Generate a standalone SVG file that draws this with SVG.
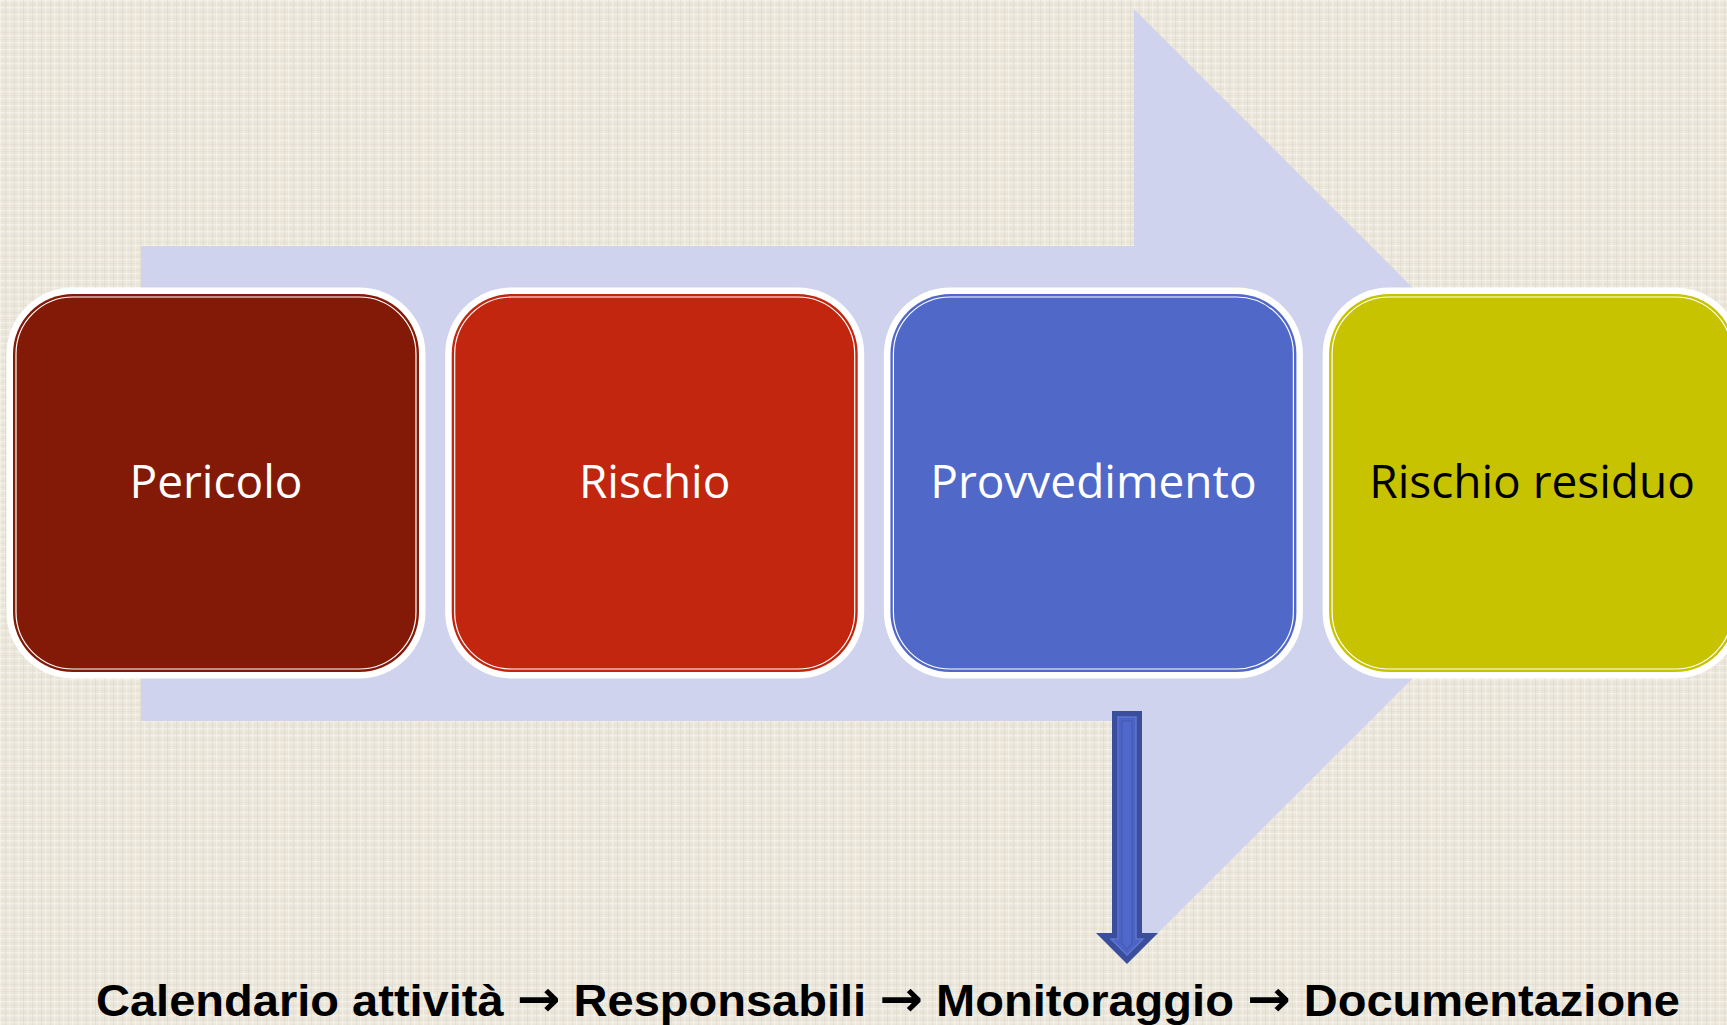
<svg xmlns="http://www.w3.org/2000/svg" width="1727" height="1025" viewBox="0 0 1727 1025">
  <defs>
    <pattern id="linen" width="9" height="7" patternUnits="userSpaceOnUse">
      <rect width="9" height="7" fill="#ebe6da"/>
      <rect x="0" y="0" width="9" height="1.2" fill="#f5f2eb" opacity="0.8"/>
      <rect x="0" y="0" width="1.2" height="7" fill="#f5f2eb" opacity="0.8"/>
      <rect x="5" y="0" width="1" height="7" fill="#ddd6c7" opacity="0.5"/>
      <rect x="0" y="4" width="9" height="0.8" fill="#ddd6c7" opacity="0.4"/>
    </pattern>
    <style>
      .outer { fill: #ffffff; }
      .inner { fill: none; stroke: #ffffff; stroke-width: 1.2; }
      .lbl { font-family: "Open Sans", "Liberation Sans", sans-serif; font-size: 46px; text-anchor: middle; }
      .arr { font-family: "DejaVu Sans", sans-serif; font-weight: bold; font-size: 50px; }
    </style>
  </defs>

  <rect width="1727" height="1025" fill="url(#linen)"/>

  <g id="bigArrow">
    <polygon points="141,246 1134,246 1134,9 1608,483 1134,957 1134,721 141,721" fill="#d0d3ed"/>
  </g>

  <g id="node-pericolo">
    <rect class="outer" x="6.5" y="287.5" width="419" height="391" rx="66.5"/>
    <rect x="13" y="294" width="406" height="378" rx="60" fill="#831a08"/>
    <rect class="inner" x="16" y="297" width="400" height="372" rx="57"/>
    <text class="lbl" x="216" y="498" fill="#ffffff">Pericolo</text>
  </g>

  <g id="node-rischio">
    <rect class="outer" x="445.2" y="287.5" width="419" height="391" rx="66.5"/>
    <rect x="451.7" y="294" width="406" height="378" rx="60" fill="#c2260f"/>
    <rect class="inner" x="454.7" y="297" width="400" height="372" rx="57"/>
    <text class="lbl" x="654.7" y="498" fill="#ffffff">Rischio</text>
  </g>

  <g id="node-provvedimento">
    <rect class="outer" x="883.9" y="287.5" width="419" height="391" rx="66.5"/>
    <rect x="890.4" y="294" width="406" height="378" rx="60" fill="#5068c8"/>
    <rect class="inner" x="893.4" y="297" width="400" height="372" rx="57"/>
    <text class="lbl" x="1093.4" y="498" fill="#ffffff">Provvedimento</text>
  </g>

  <g id="node-rischio-residuo">
    <rect class="outer" x="1322.6" y="287.5" width="419" height="391" rx="66.5"/>
    <rect x="1329.1" y="294" width="406" height="378" rx="60" fill="#c8c300"/>
    <rect class="inner" x="1332.1" y="297" width="400" height="372" rx="57"/>
    <text class="lbl" x="1532.1" y="498" fill="#000000">Rischio residuo</text>
  </g>

  <g id="connectors">
    <polygon points="1112,711 1142,711 1142,933 1158,933 1127,964 1096,933 1112,933" fill="#3a4e9c"/>
    <polygon points="1118,717 1136,717 1136,939 1143,939 1127,955 1111,939 1118,939" fill="#4b63c4" stroke="#5d74d2" stroke-width="1.5"/>
    <polygon points="1122,721 1132,721 1132,943 1127,949 1122,943" fill="#5068cc" stroke="#4259b0" stroke-width="1"/>
  </g>

  <g id="caption">
    <text x="96" y="1016" font-family="'Liberation Sans Narrow', 'Liberation Sans', sans-serif" font-weight="bold" font-size="45" fill="#000000" textLength="1584" lengthAdjust="spacingAndGlyphs">Calendario attività <tspan class="arr">→</tspan> Responsabili <tspan class="arr">→</tspan> Monitoraggio <tspan class="arr">→</tspan> Documentazione</text>
  </g>
</svg>
